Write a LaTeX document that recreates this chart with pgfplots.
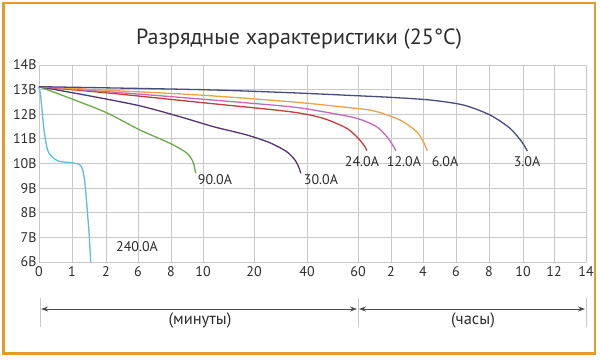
\documentclass[border=0pt]{standalone}
\usepackage{fontspec}
\setmainfont{PT Sans}
\usepackage{pgfplots}
\pgfplotsset{compat=1.18}
\usetikzlibrary{arrows.meta}
\definecolor{cCyan}{RGB}{92,190,224}
\definecolor{cGreen}{RGB}{108,170,72}
\definecolor{cPurple}{RGB}{84,52,112}
\definecolor{cRed}{RGB}{192,62,62}
\definecolor{cPink}{RGB}{196,104,184}
\definecolor{cOrange}{RGB}{236,162,72}
\definecolor{cNavy}{RGB}{72,76,122}
\definecolor{border}{RGB}{226,156,44}
\definecolor{gridgray}{RGB}{200,200,200}
\definecolor{labelgray}{RGB}{45,45,45}
\begin{document}
\begin{tikzpicture}
\useasboundingbox (0pt,0pt) rectangle (600pt,360pt);
\fill[white] (0pt,0pt) rectangle (600pt,360pt);
\begin{axis}[
  at={(39pt,98pt)}, anchor=south west, scale only axis,
  width=547pt, height=197pt,
  xmin=0, xmax=547, ymin=6, ymax=14,
  xtick={0,33,67,99,132,164,215,268,319,352,384,417,450,484,515,547},
  xticklabels={0,1,2,6,8,10,20,40,60,2,4,6,8,10,12,14},
  ytick={6,7,8,9,10,11,12,13,14},
  yticklabels={6В,7В,8В,9В,10В,11В,12В,13В,14В},
  grid=major, major grid style={gridgray, line width=0.8pt},
  axis line style={gridgray, line width=0.8pt},
  major tick length=0pt,
  tick label style={font=\fontsize{14}{16}\selectfont, text=labelgray},
  xticklabel style={yshift=-1pt},
  yticklabel style={xshift=1pt},
  clip=false,
  every axis plot/.append style={line width=1.3pt, smooth, tension=0.45, mark=none},
]
% 240 A
\addplot[cCyan] coordinates {(0,13.12) (1.5,12.8) (2.7,12.3) (4,11.75) (5,11.36) (7.7,10.68) (10,10.42) (12.7,10.28) (19.3,10.1) (27.7,10.05) (35,10.02) (40,9.97) (42.7,9.85) (44.5,9.6) (46,9.19) (48.3,8.09) (50.3,7.04) (51.7,6.0)};
% 90 A
\addplot[cGreen] coordinates {(0,13.12) (33,12.62) (67.7,12.06) (101,11.36) (131,10.82) (147.7,10.43) (154,10.07) (156.7,9.6)};
% 30 A
\addplot[cPurple] coordinates {(0,13.12) (50,12.75) (100,12.35) (141,11.9) (174,11.5) (207.7,11.16) (231,10.84) (247.7,10.48) (256,10.14) (260.3,9.8) (261.7,9.6)};
% 24 A
\addplot[cRed] coordinates {(0,13.12) (80,12.82) (161,12.48) (251,12.104) (284,11.836) (307.7,11.43) (319.3,11.02) (326,10.68) (327.7,10.52)};
% 12 A
\addplot[cPink] coordinates {(0,13.12) (80,12.88) (161,12.62) (251,12.307) (284,12.104) (317.7,11.836) (337.7,11.494) (349.3,11.02) (357,10.52)};
% 6 A
\addplot[cOrange] coordinates {(0,13.12) (80,12.95) (161,12.78) (251,12.51) (301,12.307) (334,12.144) (361,11.766) (377.7,11.29) (384.3,10.885) (388.3,10.52)};
% 3 A
\addplot[cNavy] coordinates {(0,13.12) (161,13.0) (251,12.875) (317.7,12.753) (351,12.688) (391,12.579) (424.3,12.376) (451,11.97) (471,11.43) (482.7,10.885) (488.3,10.508)};
\begin{scope}[every node/.style={font=\fontsize{14}{16}\selectfont, text=labelgray}]
\node at (axis cs:98,6.61) {240.0A};
\node at (axis cs:176,9.33) {90.0A};
\node at (axis cs:282,9.33) {30.0A};
\node at (axis cs:323,10.06) {24.0A};
\node at (axis cs:365,10.06) {12.0A};
\node at (axis cs:406,10.06) {6.0A};
\node at (axis cs:488,10.06) {3.0A};
\end{scope}
\end{axis}
% title
\node[font=\fontsize{22}{26}\selectfont, text=labelgray] at (299pt,321pt) {Разрядные характеристики (25°C)};
% bottom annotation
\draw[gridgray, line width=1pt] (40pt,33pt) -- (40pt,62pt);
\draw[gridgray, line width=1pt] (358pt,33pt) -- (358pt,62pt);
\draw[gridgray, line width=1pt] (586pt,33pt) -- (586pt,62pt);
\draw[labelgray!85, line width=0.9pt, {Stealth[length=7pt,width=5pt]}-{Stealth[length=7pt,width=5pt]}] (41pt,51pt) -- (357pt,51pt);
\draw[labelgray!85, line width=0.9pt, {Stealth[length=7pt,width=5pt]}-{Stealth[length=7pt,width=5pt]}] (359pt,51pt) -- (585pt,51pt);
\node[font=\fontsize{16.5}{19}\selectfont, text=labelgray] at (200pt,40pt) {(минуты)};
\node[font=\fontsize{16.5}{19}\selectfont, text=labelgray] at (473pt,40pt) {(часы)};
% border
\draw[border, line width=2.6pt] (3.5pt,6.5pt) rectangle (595pt,357pt);
\end{tikzpicture}
\end{document}
